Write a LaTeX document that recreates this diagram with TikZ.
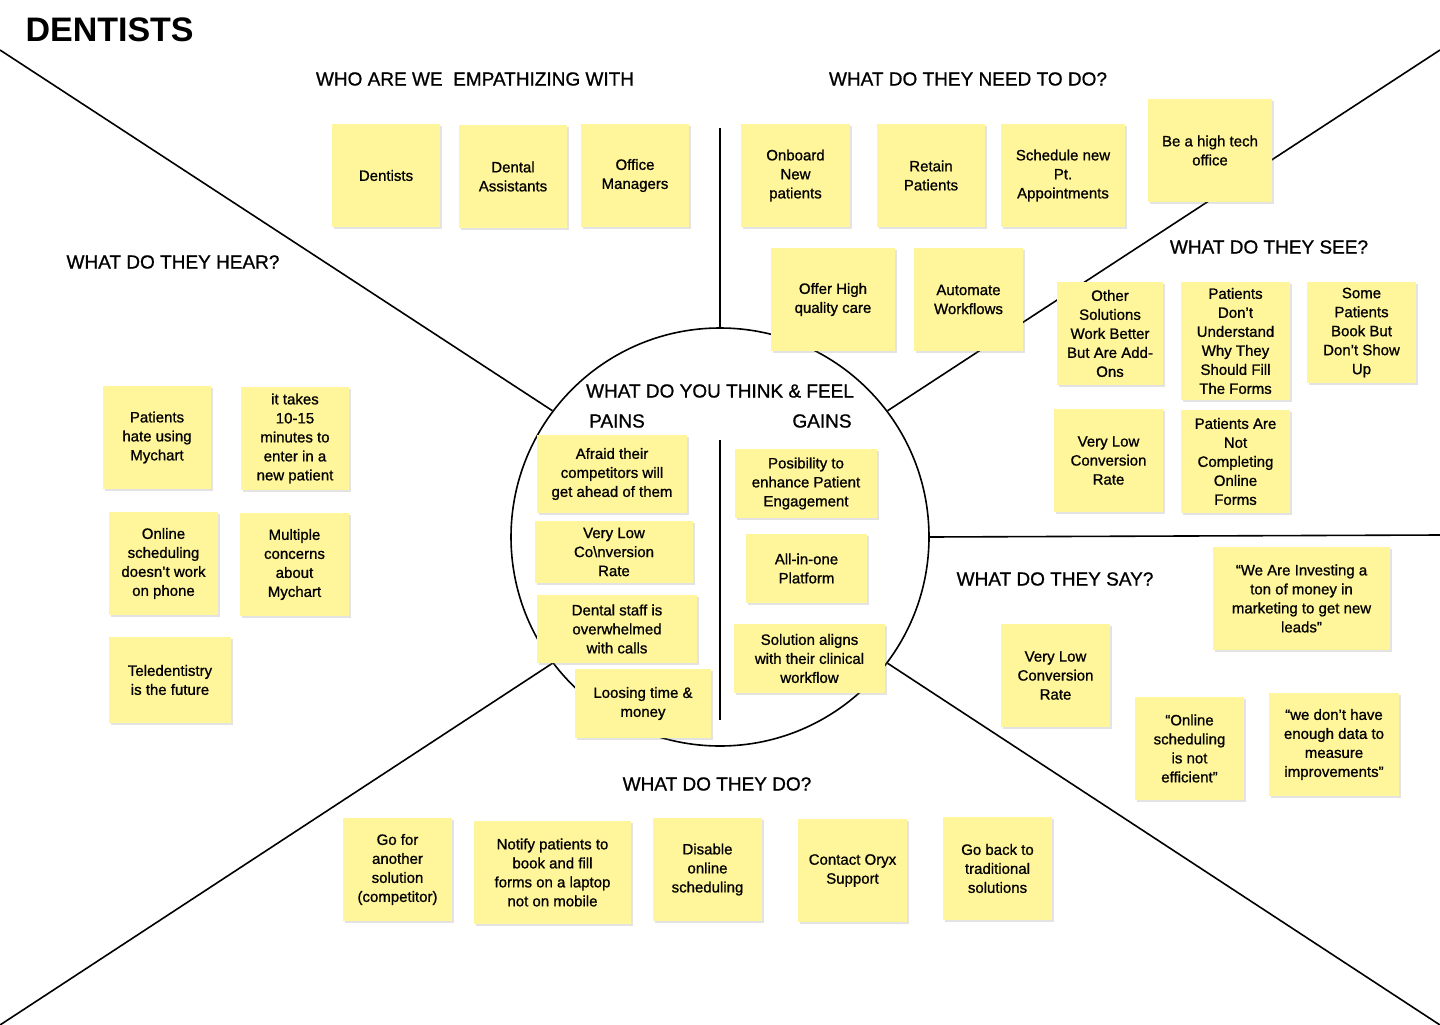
\documentclass[tikz,border=0pt]{standalone}
\usepackage{fontspec}
\setmainfont{Liberation Sans}
\newfontfamily\med[FakeBold=0.9]{Liberation Sans}
\usetikzlibrary{shadows}
\definecolor{sticky}{HTML}{FFF59A}
\tikzset{
 ln/.style={line width=1.6pt, black},
 head/.style={font=\med\fontsize{19}{22}\selectfont, anchor=center},
 st/.style={fill=sticky, align=center, inner sep=0pt, font=\med\fontsize{15}{19}\selectfont,
   drop shadow={opacity=0.22, shadow xshift=1.5pt, shadow yshift=-2pt}}
}
\newcommand{\stk}[6]{\node[st, minimum width=#4-#2, minimum height=#5-#3] (#1) at ({(#2+#4)/2},{(#3+#5)/2}) {#6};}
\begin{document}
\begin{tikzpicture}[x=1pt,y=-1pt]
\useasboundingbox[fill=white] (0,0) rectangle (1440,1025);
% structure
\node[draw, ln, circle, minimum size=418pt, inner sep=0pt] (C) at (720,537) {};
\coordinate (tl) at (0,50); \coordinate (tr) at (1440,50);
\coordinate (bl) at (0,1025); \coordinate (br) at (1440,1025);
\coordinate (vt) at (720,128); \coordinate (hr) at (1440,535);
\coordinate (it) at (720,440); \coordinate (ib) at (720,720);
\draw[ln] (tl) -- (C.143);
\draw[ln] (tr) -- (C.37);
\draw[ln] (bl) -- (C.217);
\draw[ln] (br) -- (C.-37);
\draw[ln] (vt) -- (C.90);
\draw[ln] (hr) -- (C.0);
\draw[ln] (it) -- (ib);
% headings
\node[anchor=west, font=\fontsize{34}{38}\selectfont\bfseries] (title) at (22,30) {DENTISTS};
\node[head] (h1) at (475,79) {WHO ARE WE\ \ EMPATHIZING WITH};
\node[head] (h2) at (968,79) {WHAT DO THEY NEED TO DO?};
\node[head] (h3) at (1269,247) {WHAT DO THEY SEE?};
\node[head] (h4) at (173,262) {WHAT DO THEY HEAR?};
\node[head] (h5) at (720,391) {WHAT DO YOU THINK \& FEEL};
\node[head] (h6) at (617,421) {PAINS};
\node[head] (h7) at (822,421) {GAINS};
\node[head] (h8) at (1055,579) {WHAT DO THEY SAY?};
\node[head] (h9) at (717,784) {WHAT DO THEY DO?};
% who
\stk{a1}{332}{124}{440}{227}{Dentists}
\stk{a2}{459}{125}{567}{228}{Dental\\Assistants}
\stk{a3}{581}{124}{689}{227}{Office\\Managers}
% need
\stk{b1}{741}{124}{850}{227}{Onboard\\New\\patients}
\stk{b2}{877}{124}{985}{227}{Retain\\Patients}
\stk{b3}{1001}{124}{1125}{227}{Schedule new\\Pt.\\Appointments}
\stk{b4}{1148}{99}{1272}{202}{Be a high tech\\office}
\stk{b5}{771}{248}{895}{351}{Offer High\\quality care}
\stk{b6}{914}{248}{1023}{351}{Automate\\Workflows}
% see
\stk{c1}{1057}{282}{1163}{385}{Other\\Solutions\\Work Better\\But Are Add-\\Ons}
\stk{c2}{1181}{282}{1290}{400}{Patients\\Don’t\\Understand\\Why They\\Should Fill\\The Forms}
\stk{c3}{1307}{282}{1416}{383}{Some\\Patients\\Book But\\Don’t Show\\Up}
\stk{c4}{1054}{409}{1163}{512}{Very Low\\Conversion\\Rate}
\stk{c5}{1181}{410}{1290}{513}{Patients Are\\Not\\Completing\\Online\\Forms}
% say
\stk{d1}{1213}{547}{1390}{650}{“We Are Investing a\\ton of money in\\marketing to get new\\leads”}
\stk{d2}{1001}{624}{1110}{727}{Very Low\\Conversion\\Rate}
\stk{d3}{1135}{697}{1244}{800}{“Online\\scheduling\\is not\\efficient”}
\stk{d4}{1269}{693}{1399}{796}{“we don’t have\\enough data to\\measure\\improvements”}
% do
\stk{e1}{343}{818}{452}{921}{Go for\\another\\solution\\(competitor)}
\stk{e2}{474}{821}{631}{924}{Notify patients to\\book and fill\\forms on a laptop\\not on mobile}
\stk{e3}{653}{818}{762}{921}{Disable\\online\\scheduling}
\stk{e4}{798}{819}{907}{922}{Contact Oryx\\Support}
\stk{e5}{943}{817}{1052}{920}{Go back to\\traditional\\solutions}
% hear
\stk{f1}{103}{386}{211}{489}{Patients\\hate using\\Mychart}
\stk{f2}{241}{387}{349}{490}{it takes\\10-15\\minutes to\\enter in a\\new patient}
\stk{f3}{109}{512}{218}{615}{Online\\scheduling\\doesn’t work\\on phone}
\stk{f4}{240}{513}{349}{616}{Multiple\\concerns\\about\\Mychart}
\stk{f5}{109}{637}{231}{723}{Teledentistry\\is the future}
% pains
\stk{g1}{537}{435}{687}{513}{Afraid their\\competitors will\\get ahead of them}
\stk{g2}{535}{521}{693}{583}{Very Low\\Co\textbackslash nversion\\Rate}
\stk{g3}{537}{595}{697}{663}{Dental staff is\\overwhelmed\\with calls}
\stk{g4}{575}{669}{711}{738}{Loosing time \&\\money}
% gains
\stk{k1}{735}{449}{877}{518}{Posibility to\\enhance Patient\\Engagement}
\stk{k2}{746}{534}{867}{603}{All-in-one\\Platform}
\stk{k3}{734}{624}{885}{693}{Solution aligns\\with their clinical\\workflow}
\end{tikzpicture}
\end{document}
